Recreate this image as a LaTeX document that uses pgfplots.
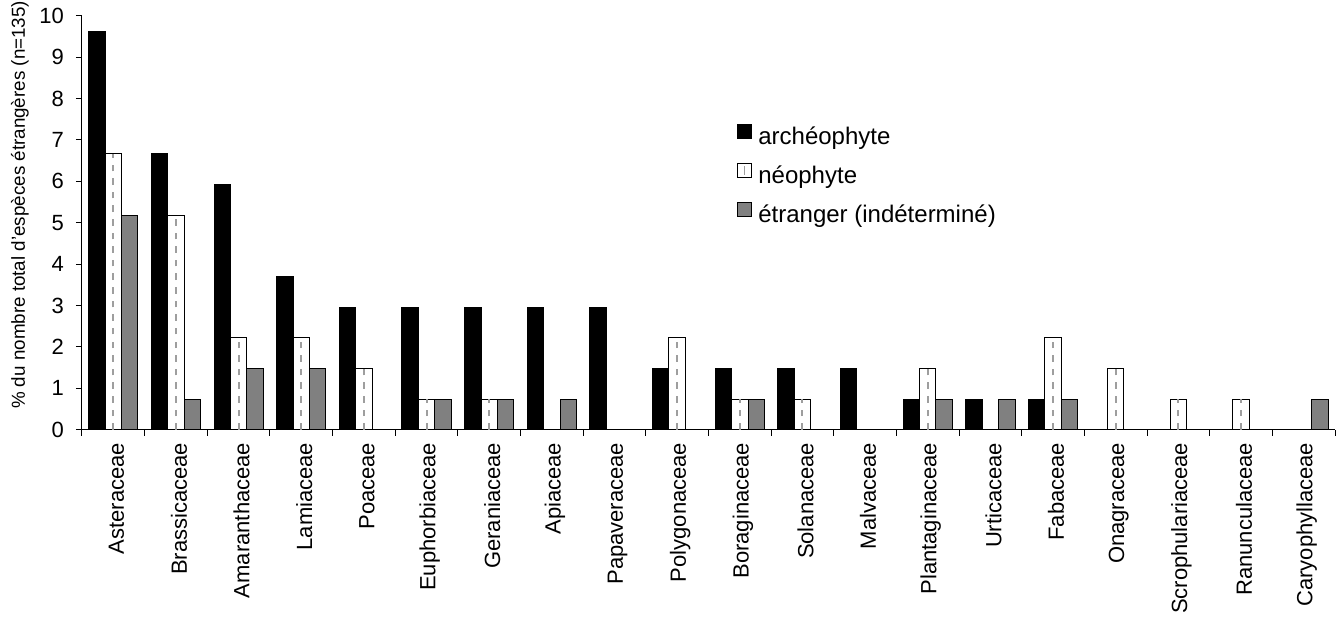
\documentclass[border=0pt]{standalone}
\usepackage{fontspec}
\setmainfont{Liberation Sans}
\usepackage{pgfplots}
\pgfplotsset{compat=1.18}
\definecolor{neodash}{gray}{0.62}
\definecolor{indgray}{gray}{0.5}
\begin{document}
\begin{tikzpicture}
\begin{axis}[
  name=ax,
  scale only axis,
  width=626.5pt, height=207pt,
  xmin=-0.5, xmax=19.5, ymin=0, ymax=10,
  axis lines*=left,
  axis line style={line width=0.5pt},
  xtick={-0.5,0.5,...,19.5},
  x tick label as interval,
  xticklabels={Asteraceae,Brassicaceae,Amaranthaceae,Lamiaceae,Poaceae,Euphorbiaceae,Geraniaceae,Apiaceae,Papaveraceae,Polygonaceae,Boraginaceae,Solanaceae,Malvaceae,Plantaginaceae,Urticaceae,Fabaceae,Onagraceae,Scrophulariaceae,Ranunculaceae,Caryophyllaceae},
  xticklabel style={rotate=90, anchor=east, font=\fontsize{11}{13}\selectfont, yshift=-1.5pt},
  ytick={0,1,...,10},
  yticklabel style={font=\fontsize{11}{13}\selectfont, xshift=-2.5pt},
  /pgf/number format/assume math mode=true,
  tick align=outside,
  major tick length=3pt,
  tick style={black, line width=0.5pt},
  ylabel={\% du nombre total d'espèces étrangères (n=135)},
  ylabel style={font=\fontsize{9.4}{11}\selectfont, at={(axis description cs:-0.0495,0.543)}, anchor=center, rotate=0},
  legend cell align=left,
  legend style={draw=none, fill=none, inner sep=0pt, outer sep=0pt,
    at={(axis description cs:0.5227,0.739)}, anchor=north west,
    row sep=6.6pt, column sep=3pt,
    font=\fontsize{12}{14}\selectfont,
    nodes={inner sep=0pt, text height=8.5pt, text depth=2.5pt}},
]
\addplot[ybar, bar width=8.2pt, bar shift=-8.2pt, fill=black, draw=black, line width=0.5pt,
  legend image code/.code={\draw[black, fill=black, line width=0.5pt] (0pt,0pt) rectangle (7.2pt,7.2pt);}]
  coordinates {(0,9.6296) (1,6.6667) (2,5.9259) (3,3.7037) (4,2.9630) (5,2.9630) (6,2.9630) (7,2.9630) (8,2.9630) (9,1.4815) (10,1.4815) (11,1.4815) (12,1.4815) (13,0.7407) (14,0.7407) (15,0.7407)};
\addlegendentry{archéophyte}
\addplot[ybar, bar width=8.2pt, bar shift=0pt, fill=white, draw=black, line width=0.5pt,
  legend image code/.code={\draw[black, fill=white, line width=0.5pt] (0pt,0pt) rectangle (7.2pt,7.2pt); \draw[neodash, line width=0.8pt] (3.6pt,1.5pt) -- (3.6pt,5.7pt);}]
  coordinates {(0,6.6667) (1,5.1852) (2,2.2222) (3,2.2222) (4,1.4815) (5,0.7407) (6,0.7407) (9,2.2222) (10,0.7407) (11,0.7407) (13,1.4815) (15,2.2222) (16,1.4815) (17,0.7407) (18,0.7407)};
\addlegendentry{néophyte}
\addplot[ybar, bar width=8.2pt, bar shift=8.2pt, fill=indgray, draw=black, line width=0.5pt,
  legend image code/.code={\draw[black, fill=indgray, line width=0.5pt] (0pt,0pt) rectangle (7.2pt,7.2pt);}]
  coordinates {(0,5.1852) (1,0.7407) (2,1.4815) (3,1.4815) (5,0.7407) (6,0.7407) (7,0.7407) (10,0.7407) (13,0.7407) (14,0.7407) (15,0.7407) (19,0.7407)};
\addlegendentry{étranger (indéterminé)}
\addplot[ycomb, forget plot, mark=none, draw=neodash, line width=1pt, dash pattern=on 3.3pt off 3.5pt]
  coordinates {(0,6.6667) (1,5.1852) (2,2.2222) (3,2.2222) (4,1.4815) (5,0.7407) (6,0.7407) (9,2.2222) (10,0.7407) (11,0.7407) (13,1.4815) (15,2.2222) (16,1.4815) (17,0.7407) (18,0.7407)};
\end{axis}
\pgfresetboundingbox
\path ([xshift=-41pt, yshift=-98pt]ax.south west) rectangle ([xshift=3.5pt, yshift=7.85pt]ax.north east);
\end{tikzpicture}
\end{document}
